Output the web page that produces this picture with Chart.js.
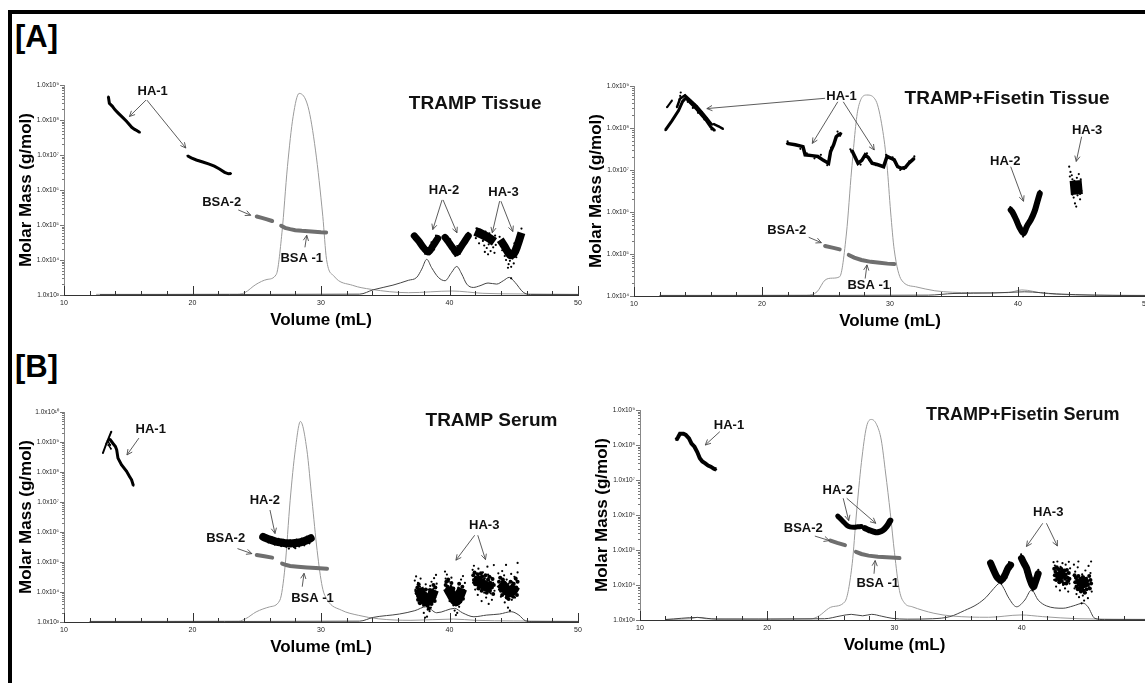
<!DOCTYPE html>
<html lang="en">
<head>
<meta charset="UTF-8">
<title>HA molar mass - TRAMP tissue and serum</title>
<script src="https://cdn.jsdelivr.net/npm/chart.js"></script>
<style>
    body { margin: 0; width: 1145px; height: 683px; overflow: hidden; position: relative; background: #fff;
           font-family: "Liberation Sans", Arial, sans-serif; }
    .frame { position: absolute; left: 8px; top: 10px; width: 1200px; height: 700px;
             border-left: 4px solid #000; border-top: 4px solid #000; }
    .tag { position: absolute; left: 15px; font-weight: bold; font-size: 31px; line-height: 31px; }
    canvas { position: absolute; }
</style>
</head>
<body>
<div class="frame"></div>
<div class="tag" style="top:21px">[A]</div>
<div class="tag" style="top:351px">[B]</div>
<canvas id="cA1" width="574" height="256" style="left:16px;top:75px"></canvas>
<canvas id="cA2" width="572" height="256" style="left:586px;top:76px"></canvas>
<canvas id="cB1" width="574" height="256" style="left:16px;top:402px"></canvas>
<canvas id="cB2" width="569" height="256" style="left:592px;top:400px"></canvas>

<script>
// ---------- [A] TRAMP Tissue ----------  (x = mL, y = g/mol, traces = relative signal)
const a1Trace = [[12.5,0.003],[23.5,0.004],[24.06,0.011],[24.93,0.05],[25.8,0.074],[26.52,0.098],[26.96,0.296],[27.39,0.612],[27.83,0.85],[28.3,0.96],[28.99,0.897],[29.57,0.69],[30.14,0.375],[30.43,0.17],[31.01,0.09],[32.46,0.046],[33.91,0.027],[36.8,0.011],[40.2,0.019],[42.6,0.008],[45.5,0.005],[50,0.003]];
const a1Uv = [[12.8,0.002],[33.0,0.004],[34.07,0.025],[35.6,0.047],[36.8,0.07],[37.45,0.084],[37.84,0.123],[38.23,0.17],[38.6,0.131],[39.13,0.084],[39.65,0.068],[40.17,0.108],[40.56,0.136],[40.95,0.1],[41.34,0.052],[41.85,0.036],[42.37,0.044],[43.0,0.057],[43.67,0.052],[44.19,0.068],[44.65,0.084],[45.1,0.06],[45.74,0.013],[46.3,0.002],[50,0.002]];
const a1Ha1a = [[13.45,4.7e8],[13.53,3.0e8],[13.75,2.5e8],[13.97,1.95e8],[14.2,1.6e8],[14.36,1.4e8],[14.6,1.15e8],[14.88,9.1e7],[15.1,7.3e7],[15.27,6.2e7],[15.5,5.4e7],[15.66,5.0e7],[15.91,4.4e7]];
const a1Ha1b = [[19.6,9.5e6],[19.9,8.3e6],[20.3,7.2e6],[20.8,6.3e6],[21.3,5.5e6],[21.7,4.8e6],[22.1,4.0e6],[22.5,3.2e6],[22.8,2.9e6],[23.0,2.95e6]];
const a1Bsa2 = [[25.0,1.75e5],[25.4,1.6e5],[25.8,1.45e5],[26.2,1.3e5]];
const a1Bsa1 = [[26.9,9.5e4],[27.2,8.3e4],[27.6,7.6e4],[28.0,7.1e4],[28.5,6.8e4],[29.0,6.6e4],[29.5,6.4e4],[30.0,6.2e4],[30.4,6.1e4]];
const a1Ha2a = [[37.26,4.9e4],[37.6,3.5e4],[38.0,2.2e4],[38.35,1.7e4],[38.7,2.5e4],[39.08,4.1e4]];
const a1Ha2b = [[39.65,4.4e4],[40.0,3.0e4],[40.3,2.1e4],[40.56,1.6e4],[40.9,2.4e4],[41.2,3.5e4],[41.46,4.9e4]];
const a1Ha2Dots = [[37.2,5.5e4],[37.3,4.0e4],[37.5,4.6e4],[37.7,2.6e4],[37.9,3.0e4],[38.1,1.5e4],[38.3,2.2e4],[38.45,1.45e4],[38.6,3.2e4],[38.8,2.0e4],[38.95,5.0e4],[39.1,3.4e4],[39.6,5.0e4],[39.8,3.4e4],[40.05,3.9e4],[40.2,1.9e4],[40.45,1.3e4],[40.6,2.5e4],[40.8,1.5e4],[41.0,3.2e4],[41.3,3.0e4],[41.45,6.0e4]];
const a1Ha3a = [[42.0,6.6e4],[42.5,5.5e4],[43.0,4.4e4],[43.5,3.3e4]];
const a1Ha3b = [[43.95,3.8e4],[44.3,2.4e4],[44.7,1.4e4],[45.0,1.5e4],[45.3,2.7e4],[45.6,6.0e4]];
const a1Ha3Dots = [[42.05,4.2e4],[42.1,8.0e4],[42.3,3.0e4],[42.4,7.3e4],[42.6,3.5e4],[42.7,2.6e4],[42.8,6.5e4],[42.9,2.2e4],[43.05,2.8e4],[43.1,5.8e4],[43.2,1.8e4],[43.3,3.8e4],[43.4,2.3e4],[43.5,1.6e4],[43.55,5.0e4],[43.6,2.7e4],[42.2,5.2e4],[42.55,4.6e4],[43.0,1.45e4],[42.75,1.7e4],
    [43.9,4.6e4],[44.0,2.5e4],[44.1,1.9e4],[44.2,3.4e4],[44.3,1.3e4],[44.4,1.0e4],[44.5,2.1e4],[44.6,7.6e3],[44.7,9.5e3],[44.75,1.9e4],[44.8,6.4e3],[44.9,1.1e4],[45.0,8.0e3],[45.1,2.2e4],[45.2,1.2e4],[45.3,1.7e4],[45.4,3.9e4],[45.5,5.1e4],[45.6,7.9e4],[45.65,4.4e4],[44.55,6.0e3],[45.05,3.0e4],[44.8,3.0e3]];
const a1Labels = [['HA-1',16.9,6.5e8],['BSA-2',22.27,4.4e5],['BSA -1',28.5,1.1e4],['HA-2',39.57,1.0e6],['HA-3',44.2,8.5e5]];
const a1Arrows = [[16.38,3.7e8,15.09,1.26e8],[16.45,3.7e8,19.48,1.58e7],[23.56,2.7e5,24.53,1.9e5],[28.75,2.3e4,28.89,5.1e4],
    [39.42,5.2e5,38.7,7.4e4],[39.5,5.2e5,40.58,6.0e4],[43.9,4.8e5,43.33,6.0e4],[44.0,4.8e5,44.93,6.5e4]];

// ---------- [A] TRAMP+Fisetin Tissue ----------
const a2Trace = [[12,0.003],[23.5,0.004],[24.3,0.02],[24.93,0.076],[25.5,0.085],[26.07,0.092],[26.6,0.3],[27.0,0.6],[27.5,0.89],[28.2,0.957],[28.9,0.93],[29.4,0.8],[29.77,0.62],[30.05,0.4],[30.33,0.22],[30.9,0.076],[32,0.044],[33.5,0.025],[36.3,0.016],[39.2,0.016],[40.3,0.029],[42,0.013],[44.8,0.005],[50,0.003]];
const a2Uv = [[12,0.002],[33,0.004],[35,0.012],[38,0.014],[40.5,0.02],[43,0.01],[46,0.004],[50,0.002]];
const a2Ha1a = [[12.45,8.9e7],[12.96,1.48e8],[13.48,2.6e8],[13.8,4.3e8],[14.05,5.2e8],[14.4,4.0e8],[14.9,2.8e8],[15.3,2.0e8],[15.67,1.48e8],[16.0,1.05e8],[16.31,8.7e7]];
const a2Ha1b = [[13.35,3.1e8],[13.6,5.0e8],[13.99,6.0e8],[14.4,4.6e8],[14.9,3.3e8],[15.3,2.4e8],[15.7,1.7e8],[16.1,1.2e8]];
const a2Ha1c = [[12.58,3.1e8],[12.96,4.5e8]];
const a2Ha1d = [[16.2,1.25e8],[16.6,1.1e8],[16.96,9.5e7]];
const a2Ha1Dots = [[13.61,5.8e8],[13.65,7.0e8],[13.55,4.8e8],[14.6,3.0e8],[15.0,2.3e8],[15.5,1.6e8],[16.05,9.3e7],[14.2,4.2e8],[14.75,3.6e8],[15.15,2.6e8],[15.9,1.3e8]];
const a2Ha1e = [[21.94,4.3e7],[22.6,4.0e7],[23.2,3.6e7],[23.37,2.3e7],[23.9,2.2e7],[24.36,2.1e7],[24.8,1.7e7],[25.2,1.45e7],[25.36,2.75e7],[25.6,4.0e7],[25.8,6.2e7],[26.0,7.0e7],[26.2,7.4e7]];
const a2Ha1f = [[26.95,2.9e7],[27.06,2.75e7],[27.5,1.45e7],[27.8,1.7e7],[28.06,2.3e7],[28.3,2.0e7],[28.6,1.45e7],[29.0,1.35e7],[29.5,1.2e7],[29.77,2.1e7],[30.1,1.9e7],[30.33,1.74e7],[30.6,1.2e7],[30.9,1.1e7],[31.2,1.15e7],[31.47,1.45e7],[31.76,1.74e7],[31.9,1.9e7]];
const a2Ha1Noise = [[22.0,4.8e7],[23.0,3.2e7],[23.5,2.5e7],[24.1,1.9e7],[24.6,2.3e7],[25.1,1.3e7],[25.4,3.4e7],[25.7,5.5e7],[25.9,8.2e7],[26.1,6.5e7],[26.9,3.1e7],[27.3,2.0e7],[27.7,1.35e7],[28.2,2.5e7],[28.4,1.7e7],[28.9,1.3e7],[29.3,1.25e7],[29.7,2.3e7],[30.2,2.0e7],[30.5,1.3e7],[30.8,1.0e7],[31.1,1.05e7],[31.5,1.6e7],[31.9,2.1e7]];
const a2Bsa2 = [[24.93,1.55e5],[25.5,1.42e5],[26.07,1.29e5]];
const a2Bsa1 = [[26.78,9.5e4],[27.2,8.2e4],[27.77,7.2e4],[28.5,6.5e4],[29.2,6.2e4],[29.8,5.9e4],[30.33,5.75e4]];
const a2Ha2 = [[39.43,1.12e6],[39.6,9.5e5],[39.86,6.5e5],[40.1,4.4e5],[40.43,3.1e5],[40.7,4.6e5],[41.0,6.5e5],[41.3,1.05e6],[41.5,1.7e6],[41.7,2.75e6]];
const a2Ha2Dots = [[39.4,1.3e6],[39.6,7.9e5],[39.8,8.0e5],[40.0,5.0e5],[40.2,3.5e5],[40.4,2.6e5],[40.5,3.8e5],[40.8,4.2e5],[41.1,8.5e5],[41.35,1.3e6],[41.6,2.0e6],[41.7,3.2e6]];
const a2Ha3 = [[44.5,5.6e6],[44.6,2.6e6]];
const a2Ha3Dots = [[44.0,1.2e7],[44.05,7.0e6],[44.1,9.0e6],[44.2,4.5e6],[44.25,6.0e6],[44.3,3.0e6],[44.35,2.2e6],[44.4,5.5e6],[44.45,1.6e6],[44.5,4.2e6],[44.55,1.35e6],[44.6,6.5e6],[44.65,2.5e6],[44.7,3.5e6],[44.75,8.0e6],[44.8,4.8e6],[44.85,2.0e6],[44.9,6.0e6],[44.95,3.2e6],[44.5,3.0e6],[44.6,4.0e6],[44.4,3.4e6],[44.3,4.2e6],[44.7,5.2e6],[44.2,7.5e6],[44.85,2.7e6],[44.25,2.6e6]];
const a2Labels = [['HA-1',26.21,5.6e8],['HA-2',39.0,1.6e7],['HA-3',45.4,8.9e7],['BSA-2',21.94,3.7e5],['BSA -1',28.34,1.74e4]];
const a2Arrows = [[24.93,5.1e8,15.69,2.9e8],[25.92,4.2e8,23.93,4.3e7],[26.35,4.2e8,28.77,3.0e7],[44.97,6.2e7,44.55,1.6e7],
    [39.43,1.2e7,40.43,1.8e6],[23.65,2.5e5,24.64,1.86e5],[28.06,2.6e4,28.2,5.5e4]];

// ---------- [B] TRAMP Serum ----------
const b1Trace = [[12,0.003],[23.6,0.004],[24.15,0.016],[24.95,0.048],[26.0,0.072],[26.8,0.104],[27.2,0.263],[27.6,0.58],[28.0,0.82],[28.4,0.955],[28.9,0.82],[29.3,0.58],[29.7,0.34],[30.1,0.167],[30.5,0.104],[31.6,0.056],[32.9,0.032],[34.5,0.015],[37,0.008],[40.3,0.014],[42,0.008],[45,0.005],[50,0.003]];
const b1Uv = [[12,0.002],[33.0,0.004],[34.07,0.022],[36.1,0.038],[37.3,0.054],[38.2,0.073],[39.0,0.044],[40.4,0.065],[41.0,0.044],[41.9,0.025],[42.9,0.033],[43.9,0.038],[44.8,0.049],[45.4,0.033],[45.9,0.006],[46.5,0.002],[50,0.002]];
const b1Ha1a = [[13.03,4.3e8],[13.3,8.9e8],[13.68,2.2e9]];
const b1Ha1b = [[13.55,1.26e9],[13.8,9.1e8],[14.0,7.1e8],[14.1,5.5e8],[14.2,2.9e8],[14.47,1.74e8],[14.87,1.05e8],[15.1,7.1e7],[15.26,5.5e7],[15.4,3.5e7]];
const b1Ha1c = [[13.4,1.1e9],[13.6,7.9e8]];
const b1Ha1d = [[13.45,8.0e8],[13.65,6.0e8]];
const b1Ha2 = [[25.5,6.9e5],[26.0,5.6e5],[26.5,4.8e5],[27.0,4.4e5],[27.4,4.2e5],[27.8,4.2e5],[28.2,4.4e5],[28.6,4.8e5],[29.0,5.6e5],[29.2,6.2e5]];
const b1Ha2Dots = [[25.6,8.0e5],[25.9,4.5e5],[26.2,6.5e5],[26.4,3.8e5],[26.7,5.9e5],[26.9,3.4e5],[27.1,5.5e5],[27.3,3.2e5],[27.6,5.3e5],[27.9,3.1e5],[28.1,5.6e5],[28.3,3.3e5],[28.5,6.0e5],[28.7,3.6e5],[28.9,7.0e5],[29.1,4.2e5],[27.5,2.8e5],[28.0,2.9e5]];
const b1Bsa2 = [[25.0,1.7e5],[25.6,1.55e5],[26.2,1.4e5]];
const b1Bsa1 = [[26.97,8.9e4],[27.3,7.9e4],[27.6,7.4e4],[28.2,7.0e4],[28.9,6.6e4],[29.6,6.3e4],[30.47,6.0e4]];
const b1Ha3a = [[37.6,1.3e4],[37.9,6.5e3],[38.2,5.0e3],[38.5,6.0e3],[38.8,1.2e4]];
const b1Ha3b = [[39.85,1.4e4],[40.1,9.0e3],[40.5,5.0e3],[40.8,8.0e3],[41.0,1.3e4]];
const b1Ha3c = [[42.0,2.8e4],[42.4,2.0e4],[42.8,1.6e4],[43.3,1.3e4]];
const b1Ha3d = [[43.95,2.0e4],[44.3,1.4e4],[44.6,1.0e4],[44.9,1.1e4],[45.15,1.6e4]];
const b1Ha3Dots = [[37.3,2.4e4],[37.35,1.2e4],[37.4,3.3e4],[37.5,7.0e3],[37.55,2.0e4],[37.6,4.5e3],[37.7,1.5e4],[37.75,2.8e4],[37.8,5.5e3],[37.9,1.1e4],[37.95,3.5e3],[38.0,2.0e3],[38.05,8.0e3],[38.1,1.4e3],[38.15,1.8e4],[38.2,4.0e3],[38.3,2.6e3],[38.35,1.2e4],[38.4,6.0e3],[38.5,1.6e4],[38.55,3.0e3],[38.6,2.2e4],[38.7,9.0e3],[38.75,1.3e4],[38.8,2.9e4],[38.9,6.5e3],[38.95,3.7e4],[39.0,1.9e4],[38.25,1.5e3],[38.45,2.3e3],
    [39.65,4.8e4],[39.7,2.8e4],[39.75,1.3e4],[39.8,3.8e4],[39.9,8.0e3],[39.95,2.2e4],[40.0,5.0e3],[40.1,1.6e4],[40.15,3.0e4],[40.2,7.0e3],[40.3,3.6e3],[40.35,1.2e4],[40.4,2.4e3],[40.45,4.5e3],[40.5,1.7e3],[40.55,9.0e3],[40.6,2.0e3],[40.7,1.4e4],[40.75,3.2e3],[40.8,6.5e3],[40.9,2.6e4],[40.95,1.1e4],[41.05,3.4e4],[41.1,7.5e3],[41.2,2.0e4],
    [41.8,5.5e4],[41.85,2.0e4],[41.9,7.5e4],[42.0,1.2e4],[42.05,4.2e4],[42.1,2.8e4],[42.2,8.0e3],[42.25,6.0e4],[42.35,1.5e4],[42.4,3.3e4],[42.5,5.0e3],[42.55,2.2e4],[42.6,4.5e4],[42.7,9.5e3],[42.75,2.9e4],[42.85,6.5e3],[42.9,1.7e4],[43.0,3.8e4],[43.05,4.0e3],[43.1,2.3e4],[43.2,9.0e3],[43.25,3.0e4],[43.3,5.5e3],[43.4,2.0e4],[43.5,1.1e4],[43.45,7.9e4],[42.95,7.0e4],
    [43.8,4.2e4],[43.85,1.2e4],[43.9,3.0e4],[44.0,7.0e3],[44.05,2.2e4],[44.1,5.0e4],[44.2,9.5e3],[44.25,3.6e4],[44.3,4.5e3],[44.4,1.6e4],[44.45,2.6e4],[44.5,6.0e3],[44.55,3.0e3],[44.6,1.9e4],[44.65,8.0e3],[44.7,2.4e3],[44.75,1.3e4],[44.8,4.0e4],[44.85,5.5e3],[44.9,2.1e4],[45.0,9.0e3],[45.05,3.2e4],[45.1,6.5e3],[45.2,2.5e4],[45.25,1.1e4],[45.3,4.5e4],[45.3,9.3e4],[44.4,8.0e4]];
const b1Ha3Dense = [[37.45,9e3],[37.5,1.4e4],[37.55,5.5e3],[37.6,1.1e4],[37.65,7.5e3],[37.7,4.2e3],[37.75,1.2e4],[37.85,8.5e3],[37.9,5e3],[37.95,1.0e4],[38.0,6.5e3],[38.05,3.8e3],[38.1,9e3],[38.2,5.5e3],[38.25,8e3],[38.3,3.5e3],[38.35,6.8e3],[38.45,4.8e3],[38.5,9.5e3],[38.55,6e3],[38.6,4e3],[38.65,1.1e4],[38.7,7e3],[38.8,1.0e4],[38.85,5e3],[38.9,1.4e4],[37.6,1.8e4],[38.15,1.2e4],[38.4,2.8e3],[38.75,1.7e4],
    [39.7,1.7e4],[39.75,2.2e4],[39.8,1.1e4],[39.85,1.5e4],[39.9,2.6e4],[39.95,9e3],[40.0,1.3e4],[40.05,7e3],[40.1,1.0e4],[40.2,5.5e3],[40.25,8.5e3],[40.3,1.3e4],[40.35,6e3],[40.4,4.5e3],[40.45,8e3],[40.5,3.8e3],[40.55,6.5e3],[40.6,1.0e4],[40.65,5e3],[40.7,7.5e3],[40.8,1.2e4],[40.85,4.8e3],[40.9,9e3],[41.0,1.5e4],[41.05,6e3],[41.1,1.1e4],[40.15,2.0e4],[40.75,1.9e4],
    [41.85,3.6e4],[41.9,2.5e4],[41.95,4.5e4],[42.0,1.8e4],[42.05,3.0e4],[42.15,2.2e4],[42.2,3.9e4],[42.25,1.3e4],[42.3,2.8e4],[42.4,1.9e4],[42.45,4.2e4],[42.5,1.1e4],[42.55,3.3e4],[42.6,1.6e4],[42.65,2.5e4],[42.75,1.2e4],[42.8,3.6e4],[42.85,2.1e4],[42.9,9.5e3],[43.0,2.6e4],[43.05,1.5e4],[43.1,3.2e4],[43.15,1.1e4],[43.2,2.0e4],[43.3,1.4e4],[43.35,2.7e4],[43.4,8.5e3],[43.45,1.7e4],
    [43.85,2.2e4],[43.9,1.5e4],[43.95,3.0e4],[44.0,1.1e4],[44.05,1.8e4],[44.1,8e3],[44.15,2.6e4],[44.2,1.3e4],[44.3,2.0e4],[44.35,9e3],[44.4,1.2e4],[44.45,6.5e3],[44.5,1.6e4],[44.55,9.5e3],[44.6,5.8e3],[44.65,1.3e4],[44.7,8.5e3],[44.75,2.2e4],[44.8,1.0e4],[44.9,1.5e4],[44.95,7e3],[45.0,1.9e4],[45.1,1.1e4],[45.15,2.8e4],[45.2,1.4e4],[45.25,8e3],[45.3,2.2e4]];
const b1Labels = [['HA-1',16.75,2.6e9],['HA-2',25.63,1.17e7],['BSA-2',22.58,6.2e5],['BSA -1',29.34,6.0e3],['HA-3',42.7,1.66e6]];
const b1Arrows = [[15.83,1.35e9,14.9,3.7e8],[26.03,5.4e6,26.42,8.9e5],[23.5,2.8e5,24.62,1.9e5],[28.54,1.5e4,28.68,4.2e4],
    [41.96,7.8e5,40.5,1.15e5],[42.2,7.8e5,42.8,1.2e5]];

// ---------- [B] TRAMP+Fisetin Serum ----------
const b2Trace = [[12,0.003],[14.0,0.006],[14.5,0.013],[15.2,0.006],[23.4,0.005],[23.97,0.016],[25.1,0.063],[26.1,0.087],[26.68,0.27],[27.0,0.5],[27.4,0.75],[27.8,0.92],[28.19,0.955],[28.6,0.93],[28.96,0.857],[29.3,0.7],[29.67,0.51],[30.0,0.32],[30.39,0.14],[30.8,0.08],[31.39,0.063],[33.1,0.032],[34.52,0.019],[37.4,0.013],[39.94,0.024],[41.65,0.016],[44.5,0.006],[50,0.003]];
const b2Uv = [[12,0.002],[14.5,0.012],[16,0.004],[24.5,0.006],[25.8,0.02],[26.6,0.027],[27.5,0.02],[28.2,0.027],[29.0,0.018],[29.8,0.008],[31,0.004],[33,0.006],[34.35,0.016],[35.5,0.045],[36.5,0.075],[37.23,0.11],[37.8,0.15],[38.28,0.175],[38.6,0.15],[38.93,0.11],[39.6,0.063],[40.24,0.095],[40.77,0.143],[41.29,0.095],[41.95,0.067],[43.25,0.056],[44.04,0.067],[44.82,0.08],[45.2,0.063],[45.74,0.008],[46.5,0.002],[50,0.002]];
const b2Ha1 = [[12.85,1.38e8],[13.0,1.7e8],[13.14,2.1e8],[13.42,2.1e8],[13.6,1.95e8],[13.85,1.55e8],[14.05,1.1e8],[14.28,8.9e7],[14.5,6.3e7],[14.7,4.2e7],[14.9,3.4e7],[15.13,3.0e7],[15.35,2.6e7],[15.56,2.4e7],[15.8,2.1e7],[15.99,2.0e7]];
const b2Ha2a = [[25.54,9.3e5],[25.9,6.9e5],[26.25,5.1e5],[26.5,4.6e5],[26.82,4.5e5],[27.1,4.6e5],[27.39,4.7e5]];
const b2Ha2b = [[27.68,4.2e5],[28.0,3.7e5],[28.53,3.2e5],[28.8,3.3e5],[29.1,3.7e5],[29.4,4.8e5],[29.67,6.9e5]];
const b2Bsa2 = [[24.97,1.86e5],[25.5,1.6e5],[26.11,1.38e5]];
const b2Bsa1 = [[26.97,8.9e4],[27.4,7.7e4],[27.96,6.9e4],[28.7,6.4e4],[29.39,6.2e4],[30.39,5.9e4]];
const b2Ha3a = [[37.55,4.2e4],[37.8,2.6e4],[38.1,1.6e4],[38.41,1.38e4],[38.7,2.0e4],[38.9,2.9e4],[39.12,3.7e4]];
const b2Ha3b = [[39.98,5.8e4],[40.2,4.0e4],[40.38,3.0e4],[40.6,1.6e4],[40.9,8.9e3],[41.1,1.3e4],[41.29,2.1e4]];
const b2Ha3c = [[42.85,2.4e4],[43.25,1.5e4]];
const b2Ha3d = [[44.55,1.5e4],[45.0,8.5e3]];
const b2Ha3Dots = [[37.5,5.0e4],[37.7,3.4e4],[37.9,2.0e4],[38.2,1.8e4],[38.4,1.1e4],[38.6,2.4e4],[38.8,1.6e4],[39.0,4.5e4],[39.15,3.0e4],[39.95,7.5e4],[40.1,4.6e4],[40.3,2.3e4],[40.5,2.0e4],[40.7,1.1e4],[40.85,7.0e3],[41.0,1.6e4],[41.2,1.1e4],[41.3,2.7e4],
    [42.5,4.5e4],[42.55,1.4e4],[42.6,3.6e4],[42.7,9.0e3],[42.75,2.9e4],[42.8,4.7e4],[42.9,1.2e4],[42.95,2.4e4],[43.0,7.0e3],[43.05,3.3e4],[43.15,1.5e4],[43.2,4.2e4],[43.25,1.0e4],[43.3,2.7e4],[43.4,8.0e3],[43.45,3.8e4],[43.5,1.3e4],[43.6,2.2e4],[43.65,6.5e3],[43.7,4.6e4],[43.75,1.1e4],[43.8,3.0e4],
    [44.1,3.8e4],[44.15,8.0e3],[44.2,2.4e4],[44.3,5.5e3],[44.35,1.7e4],[44.4,3.2e4],[44.5,4.5e3],[44.55,1.4e4],[44.6,7.0e3],[44.7,3.0e3],[44.75,2.0e4],[44.8,5.0e3],[44.85,1.2e4],[44.9,3.6e3],[45.0,2.6e4],[45.05,6.0e3],[45.1,1.6e4],[45.2,4.2e3],[45.25,3.5e4],[45.3,8.5e3],[45.4,2.2e4],[45.45,4.7e4],[45.5,6.5e3],[44.45,4.7e4]];
const b2Ha3Dense = [[42.55,2.9e4],[42.6,1.9e4],[42.65,2.4e4],[42.7,1.4e4],[42.75,3.2e4],[42.8,2.1e4],[42.85,1.6e4],[42.9,2.8e4],[42.95,1.2e4],[43.0,2.2e4],[43.05,1.7e4],[43.1,2.9e4],[43.15,1.3e4],[43.2,2.3e4],[43.25,1.8e4],[43.3,1.1e4],[43.35,2.6e4],[43.4,1.5e4],[43.45,2.0e4],[43.5,1.1e4],[43.55,2.7e4],[43.6,1.6e4],[43.65,1.3e4],[43.7,2.2e4],[43.75,1.5e4],
    [44.15,1.9e4],[44.2,1.2e4],[44.25,1.6e4],[44.3,9e3],[44.35,1.4e4],[44.4,7.5e3],[44.45,1.8e4],[44.5,1.05e4],[44.55,8e3],[44.6,1.5e4],[44.65,6.5e3],[44.7,1.1e4],[44.75,8.5e3],[44.8,1.7e4],[44.85,7e3],[44.9,1.2e4],[44.95,6e3],[45.0,9.5e3],[45.05,1.5e4],[45.1,7.5e3],[45.15,1.3e4],[45.2,1.0e4],[45.3,1.8e4],[45.35,8e3],[45.4,1.4e4],[45.45,1.1e4]];
const b2Labels = [['HA-1',16.99,3.7e8],['HA-2',25.54,4.9e6],['BSA-2',22.83,4.2e5],['BSA -1',28.68,1.12e4],['HA-3',42.08,1.17e6]];
const b2Arrows = [[16.27,2.4e8,15.13,1.0e8],[25.97,3.0e6,26.4,6.9e5],[26.25,3.0e6,28.53,5.8e5],[23.74,2.5e5,24.88,1.86e5],
    [28.39,2.1e4,28.48,5.0e4],[41.65,5.8e5,40.37,1.26e5],[41.94,5.8e5,42.8,1.3e5]];

// ---------- drawing ----------
const FONT = '"Liberation Sans", Arial, sans-serif';
Chart.defaults.font.family = FONT;
Chart.defaults.color = '#222';

const styles = {
    trace: { borderColor: '#9b9b9b', borderWidth: 1, yAxisID: 'sig', cubicInterpolationMode: 'monotone', order: 4 },
    uv:    { borderColor: '#444', borderWidth: 1, yAxisID: 'sig', cubicInterpolationMode: 'monotone', order: 3 },
    ha:    { borderColor: '#000', borderWidth: 3, pointRadius: 1, pointBackgroundColor: '#000', pointBorderWidth: 0, order: 1 },
    band:  { borderColor: '#000', borderWidth: 7, borderCapStyle: 'round', borderJoinStyle: 'round', tension: 0.35, order: 1 },
    core:  { borderColor: '#000', borderWidth: 7, borderCapStyle: 'butt', borderJoinStyle: 'round', tension: 0.35, order: 1 },
    dots:  { showLine: false, pointRadius: 1.1, pointBackgroundColor: '#000', pointBorderWidth: 0, order: 0 },
    dense: { showLine: false, pointRadius: 2, pointBackgroundColor: '#000', pointBorderWidth: 0, order: 0 },
    bsa:   { borderColor: '#6f6f6f', borderWidth: 4, borderCapStyle: 'round', order: 0 }
};

const sup = n => String(n).split('').map(d => '⁰¹²³⁴⁵⁶⁷⁸⁹'[+d]).join('');

function drawExtras(chart, p) {
    const { ctx, scales: { x, y } } = chart;
    const X = v => x.getPixelForValue(v), Y = v => y.getPixelForValue(v);
    ctx.save();
    // x ticks pointing into the plot
    ctx.strokeStyle = '#333'; ctx.lineWidth = 1;
    for (let v = 10; v <= 50; v += 2) {
        const px = Math.round(X(v)) + 0.5, len = v % 10 === 0 ? 9 : 4;
        ctx.beginPath(); ctx.moveTo(px, x.top + 1); ctx.lineTo(px, x.top - len); ctx.stroke();
    }
    // log minor ticks on the y axis
    ctx.strokeStyle = '#777';
    const e0 = Math.round(Math.log10(y.min)), e1 = Math.round(Math.log10(y.max));
    for (let e = e0; e <= e1; e++) {
        for (let k = 1; k <= 9; k++) {
            if (e === e1 && k > 1) break;
            const py = Math.round(Y(k * Math.pow(10, e))) + 0.5, len = k === 1 ? 4 : 2;
            ctx.beginPath(); ctx.moveTo(y.right - len, py); ctx.lineTo(y.right, py); ctx.stroke();
        }
    }
    // arrows
    ctx.strokeStyle = '#4a4a4a'; ctx.lineWidth = 0.9;
    p.arrows.forEach(([x1, y1, x2, y2]) => {
        const ax = X(x1), ay = Y(y1), bx = X(x2), by = Y(y2);
        const a = Math.atan2(by - ay, bx - ax), h = 6;
        ctx.beginPath(); ctx.moveTo(ax, ay); ctx.lineTo(bx, by);
        ctx.moveTo(bx - h * Math.cos(a - 0.45), by - h * Math.sin(a - 0.45)); ctx.lineTo(bx, by);
        ctx.lineTo(bx - h * Math.cos(a + 0.45), by - h * Math.sin(a + 0.45));
        ctx.stroke();
    });
    // labels and title
    ctx.fillStyle = '#111'; ctx.textAlign = 'center'; ctx.textBaseline = 'middle';
    ctx.font = 'bold 13px ' + FONT;
    p.labels.forEach(([t, vx, vy]) => ctx.fillText(t, X(vx), Y(vy)));
    ctx.font = 'bold ' + p.titleSize + 'px ' + FONT;
    ctx.fillText(p.title, X(p.titleAt[0]), Y(p.titleAt[1]));
    ctx.restore();
}

function makePanel(p) {
    const datasets = p.series.map(([kind, data, w]) => {
        const ds = Object.assign({ data: data, pointRadius: 0, fill: false }, styles[kind]);
        if (w) ds.borderWidth = w;
        return ds;
    });
    return new Chart(document.getElementById(p.id), {
        type: 'line',
        data: { datasets: datasets },
        options: {
            responsive: false, animation: false, events: [],
            layout: { padding: { top: 10, right: 12, left: 0, bottom: 0 } },
            plugins: { legend: { display: false }, tooltip: { enabled: false } },
            scales: {
                x: {
                    type: 'linear', position: 'bottom', min: 10, max: 50,
                    grid: { display: false, drawTicks: false },
                    border: { display: true, color: '#333', width: 1 },
                    ticks: { stepSize: 10, padding: 4, font: { size: 7 }, autoSkip: false },
                    title: { display: true, text: 'Volume (mL)', color: '#000', padding: 0, font: { size: 17, weight: 'bold' } },
                    afterFit: s => { s.height = 36; }
                },
                y: {
                    type: 'logarithmic', position: 'left', min: p.yMin, max: p.yMax,
                    grid: { display: false, drawTicks: false },
                    border: { display: true, color: '#888', width: 1 },
                    afterBuildTicks: s => {
                        const ticks = [];
                        for (let v = p.yMin; v <= p.yMax * 1.01; v *= 10) ticks.push({ value: v });
                        s.ticks = ticks;
                    },
                    ticks: { padding: 5, font: { size: 6.5 }, autoSkip: false,
                             callback: v => '1.0x10' + sup(Math.round(Math.log10(v))) },
                    title: { display: true, text: 'Molar Mass (g/mol)', color: '#000', padding: 0, font: { size: 17, weight: 'bold' } },
                    afterFit: s => { s.width = 48; }
                },
                sig: { type: 'linear', min: 0, max: 1, display: false }
            }
        },
        plugins: [{ id: 'extras', afterDraw: chart => drawExtras(chart, p) }]
    });
}

makePanel({
    id: 'cA1', yMin: 1e3, yMax: 1e9, title: 'TRAMP Tissue', titleSize: 19, titleAt: [42.0, 3.0e8],
    labels: a1Labels, arrows: a1Arrows,
    series: [['trace', a1Trace], ['uv', a1Uv], ['ha', a1Ha1a], ['ha', a1Ha1b], ['bsa', a1Bsa2], ['bsa', a1Bsa1],
             ['band', a1Ha2a], ['band', a1Ha2b], ['dots', a1Ha2Dots], ['core', a1Ha3a, 9], ['core', a1Ha3b, 8], ['dots', a1Ha3Dots]]
});
makePanel({
    id: 'cA2', yMin: 1e4, yMax: 1e9, title: 'TRAMP+Fisetin Tissue', titleSize: 19, titleAt: [39.15, 5.1e8],
    labels: a2Labels, arrows: a2Arrows,
    series: [['trace', a2Trace], ['uv', a2Uv], ['ha', a2Ha1a, 3], ['ha', a2Ha1b, 2.5], ['ha', a2Ha1c, 2], ['ha', a2Ha1d, 2.5], ['dots', a2Ha1Dots],
             ['ha', a2Ha1e, 3.5], ['ha', a2Ha1f, 3.5], ['dots', a2Ha1Noise], ['bsa', a2Bsa2], ['bsa', a2Bsa1],
             ['band', a2Ha2, 6], ['dots', a2Ha2Dots], ['core', a2Ha3, 12], ['dots', a2Ha3Dots]]
});
makePanel({
    id: 'cB1', yMin: 1e3, yMax: 1e10, title: 'TRAMP Serum', titleSize: 19, titleAt: [43.27, 5.2e9],
    labels: b1Labels, arrows: b1Arrows,
    series: [['trace', b1Trace], ['uv', b1Uv], ['ha', b1Ha1a, 2], ['ha', b1Ha1b, 3], ['ha', b1Ha1c, 1.5], ['ha', b1Ha1d, 1.5],
             ['band', b1Ha2, 8], ['dots', b1Ha2Dots], ['bsa', b1Bsa2], ['bsa', b1Bsa1],
             ['core', b1Ha3a, 10], ['core', b1Ha3b, 10], ['core', b1Ha3c, 10], ['core', b1Ha3d, 10], ['dots', b1Ha3Dots], ['dense', b1Ha3Dense]]
});
makePanel({
    id: 'cB2', yMin: 1e3, yMax: 1e9, title: 'TRAMP+Fisetin Serum', titleSize: 18, titleAt: [40.08, 7.2e8],
    labels: b2Labels, arrows: b2Arrows,
    series: [['trace', b2Trace], ['uv', b2Uv], ['ha', b2Ha1, 4], ['band', b2Ha2a, 5], ['band', b2Ha2b, 6], ['bsa', b2Bsa2], ['bsa', b2Bsa1],
             ['band', b2Ha3a, 7], ['band', b2Ha3b, 7], ['core', b2Ha3c, 11], ['core', b2Ha3d, 11], ['dots', b2Ha3Dots], ['dense', b2Ha3Dense]]
});
</script>
</body>
</html>
